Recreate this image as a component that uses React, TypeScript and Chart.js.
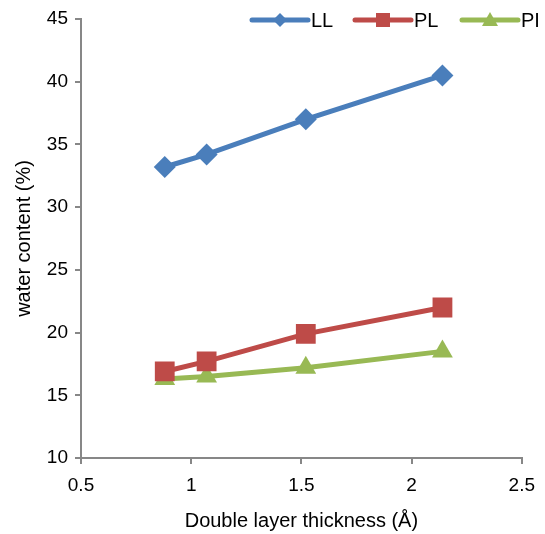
import React, { useEffect, useRef } from "react";
import { Chart, registerables } from "chart.js";
Chart.register(...registerables);

const thickness = [0.88, 1.07, 1.52, 2.14];
const LL = [33.2, 34.2, 37.0, 40.5];
const PL = [16.9, 17.7, 19.9, 22.0];
const PI = [16.3, 16.5, 17.2, 18.5];
const seriesNames = ["LL", "PL", "PI"];
const seriesColors = ["#4A7EBB", "#BE4B48", "#98B954"];
const seriesMarkers = ["rectRot", "rect", "triangle"];
const seriesMarkerRadius = [11, 14, 12];
const xTitle = "Double layer thickness (Å)";
const yTitle = "water content (%)";

const FONT = "'Liberation Sans', Arial, sans-serif";
const AXIS = "#878787";

const legendPlugin = {
  id: "customLegend",
  afterDraw(chart: any) {
    const ctx = chart.ctx;
    const starts = [252, 355, 462];
    const y = 20;
    ctx.save();
    chart.data.datasets.forEach((ds: any, i: number) => {
      const x0 = starts[i];
      const x1 = x0 + 56;
      const cx = (x0 + x1) / 2;
      ctx.strokeStyle = ds.borderColor;
      ctx.fillStyle = ds.borderColor;
      ctx.lineWidth = 5;
      ctx.lineCap = "round";
      ctx.beginPath();
      ctx.moveTo(x0, y);
      ctx.lineTo(x1, y);
      ctx.stroke();
      ctx.beginPath();
      if (ds.pointStyle === "rectRot") {
        const r = 7;
        ctx.moveTo(cx, y - r);
        ctx.lineTo(cx + r, y);
        ctx.lineTo(cx, y + r);
        ctx.lineTo(cx - r, y);
      } else if (ds.pointStyle === "rect") {
        ctx.rect(cx - 7, y - 7, 14, 14);
      } else {
        ctx.moveTo(cx, y - 8);
        ctx.lineTo(cx + 8, y + 6);
        ctx.lineTo(cx - 8, y + 6);
      }
      ctx.closePath();
      ctx.fill();
      ctx.fillStyle = "#000";
      ctx.font = `20px ${FONT}`;
      ctx.textBaseline = "middle";
      ctx.textAlign = "left";
      ctx.fillText(ds.label, x1 + 3, y + 1);
    });
    ctx.restore();
  },
};

export default function App() {
  const ref = useRef<HTMLCanvasElement>(null);
  useEffect(() => {
    if (!ref.current) return;
    const mk = (vals: number[], i: number) => ({
      label: seriesNames[i],
      data: thickness.map((x, j) => ({ x, y: vals[j] })),
      borderColor: seriesColors[i],
      backgroundColor: seriesColors[i],
      borderWidth: 5,
      pointStyle: seriesMarkers[i],
      pointRadius: seriesMarkerRadius[i],
      pointBorderWidth: 0,
      tension: 0,
    });
    const chart = new Chart(ref.current, {
      type: "line",
      data: { datasets: [mk(LL, 0), mk(PL, 1), mk(PI, 2)] },
      options: {
        animation: false,
        responsive: false,
        layout: { padding: { top: 19, right: 22, left: 0, bottom: 0 } },
        plugins: { legend: { display: false }, tooltip: { enabled: false } },
        scales: {
          x: {
            type: "linear",
            min: 0.5,
            max: 2.5,
            ticks: {
              stepSize: 0.5,
              color: "#000",
              font: { size: 19, family: FONT },
              padding: 10,
              callback: (v: any) => String(v),
            },
            grid: { drawOnChartArea: false, drawTicks: true, tickLength: 6, color: AXIS, lineWidth: 2 },
            border: { color: AXIS, width: 2 },
            title: { display: true, text: xTitle, color: "#000", font: { size: 20, family: FONT }, padding: { top: 0, bottom: 1 } },
            afterFit: (s: any) => { s.height = 76; },
          },
          y: {
            min: 10,
            max: 45,
            ticks: { stepSize: 5, color: "#000", font: { size: 19, family: FONT }, padding: 7 },
            grid: { drawOnChartArea: false, drawTicks: true, tickLength: 6, color: AXIS, lineWidth: 2 },
            border: { color: AXIS, width: 2 },
            title: { display: true, text: yTitle, color: "#000", font: { size: 20, family: FONT }, padding: { top: 12, bottom: 0 } },
            afterFit: (s: any) => { s.width = 81; },
          },
        },
      },
      plugins: [legendPlugin],
    } as any);
    return () => chart.destroy();
  }, []);
  return (
    <div style={{ position: "fixed", left: 0, top: 0, width: 545, height: 534, background: "#fff" }}>
      <canvas ref={ref} width={545} height={534} />
    </div>
  );
}
